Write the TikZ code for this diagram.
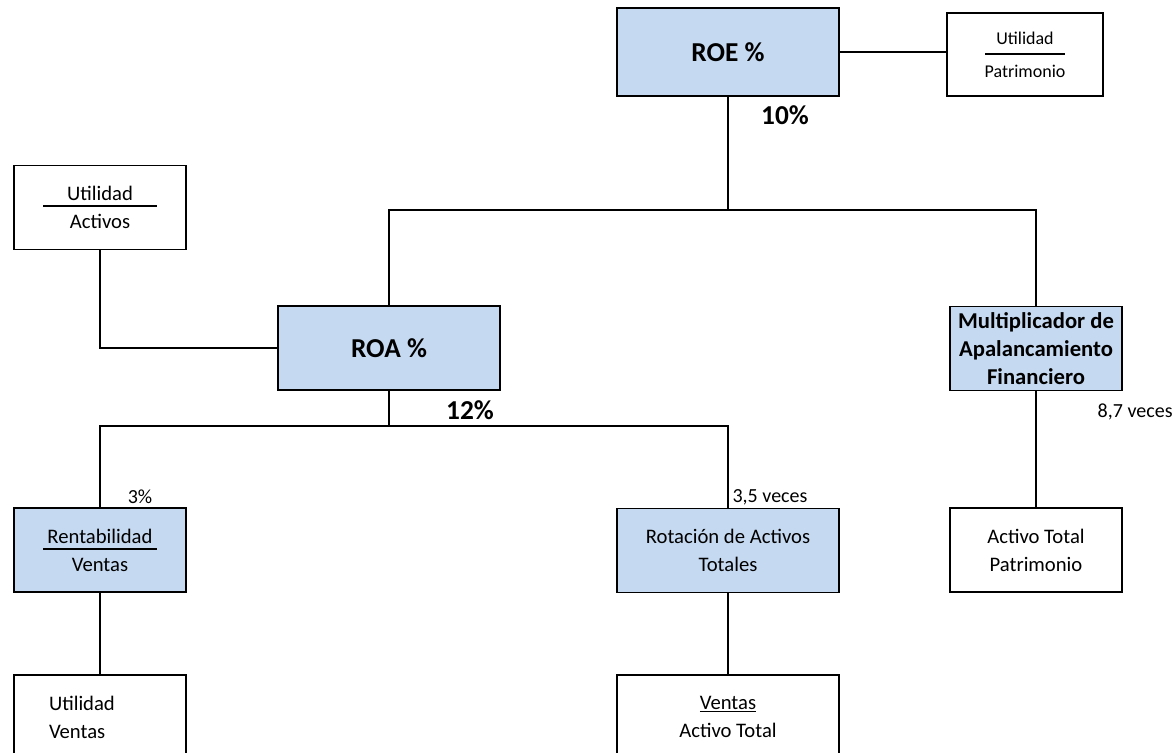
\documentclass[tikz,border=0pt]{standalone}
\usepackage{fontspec}
\setmainfont{Carlito}
\definecolor{boxblue}{RGB}{197,217,241}

\begin{document}
\begin{tikzpicture}[x=0.75pt,y=-0.75pt,
            box/.style={draw, line width=1.3pt, minimum width=129pt, minimum height=63pt,
                inner sep=2pt, align=center, font=\fontsize{15.5}{21}\selectfont},
            wide/.style={minimum width=166.5pt},
            blue/.style={fill=boxblue},
            key/.style={font=\fontsize{20.5}{24}\selectfont\bfseries},
            val/.style={font=\fontsize{15}{18}\selectfont},
            link/.style={line width=1pt}]
            \useasboundingbox (0,0) rectangle (1175,753);

            \node[box,wide,blue,key,minimum height=66pt] (roe) at (728,52) {ROE \%};
            \node[box,minimum width=117pt,minimum height=62.25pt,font=\fontsize{13.5}{25}\selectfont] (patr) at (1025,54.5)
                {\makebox[60pt]{Utilidad}\llap{\rule[-8pt]{60pt}{1.2pt}}\\Patrimonio};
            \node[box] (uact) at (100,207.5)
                {\makebox[85pt]{Utilidad}\llap{\rule[-4.5pt]{85pt}{1.2pt}}\\Activos};
            \node[box,wide,blue,key] (roa) at (389,348) {ROA \%};
            \node[box,blue,font=\fontsize{17}{21}\selectfont\bfseries] (mult) at (1036,348.5)
                {Multiplicador de\\Apalancamiento\\Financiero};
            \node[box,blue] (rent) at (100,550)
                {\makebox[85pt]{Rentabilidad}\llap{\rule[-5pt]{85pt}{1.2pt}}\\Ventas};
            \node[box,wide,blue] (rot) at (728,550.5) {Rotación de Activos\\Totales};
            \node[box] (apat) at (1036,550) {Activo Total\\Patrimonio};
            \node[box,align=left,text width=76.5pt,inner xsep=26.25pt] (uven) at (100,717) {Utilidad\\Ventas};
            \node[box,wide] (vat) at (728,717) {\underline{Ventas}\\Activo Total};

            \coordinate (jroe) at (728,210);
            \coordinate (jroa) at (389,426);

            \draw[link] (roe) -- (roe -| patr.west);
            \draw[link] (roe) -- (jroe);
            \draw[link] (roa.north) |- (jroe) -| (mult.north);
            \draw[link] (uact.south) |- (roa.west);
            \draw[link] (roa) -- (jroa);
            \draw[link] (rent.north) |- (jroa) -| (rot.north);
            \draw[link] (rent) -- (uven);
            \draw[link] (rot) -- (vat);
            \draw[link] (mult) -- (apat);

            \node[key] (roeval) at (785,115) {10\%};
            \node[key] (roaval) at (470,410) {12\%};
            \node[val] (rentval) at (140,497) {3\%};
            \node[val] (rotval) at (770,497) {3,5 veces};
            \node[val,anchor=west] (multval) at (1093,412) {8,7 veces};
        \end{tikzpicture}
\end{document}
